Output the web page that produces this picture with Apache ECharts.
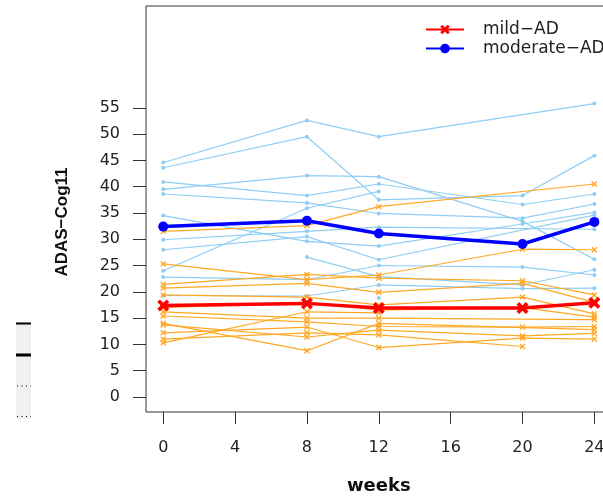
<!DOCTYPE html>
<html>
<head>
<meta charset="utf-8">
<script src="https://cdn.jsdelivr.net/npm/echarts@6/dist/echarts.min.js"></script>
<style>
  html, body { margin: 0; padding: 0; background: #fff; }
  #chart { width: 603px; height: 496px; }
</style>
</head>
<body>
<div id="chart"></div>
<script>
// visit weeks where scores were taken
var weeks = [0, 8, 12, 20, 24];
var weekTicks = [0, 4, 8, 12, 16, 20, 24];
var scoreTicks = [0, 5, 10, 15, 20, 25, 30, 35, 40, 45, 50, 55];

// group means (thick lines)
var mildMean = [17.4, 17.8, 16.9, 16.9, 17.9];
var moderateMean = [32.4, 33.5, 31.1, 29.1, 33.3];

// individual subjects, one value per visit week (null = missed visit)
var mildSubjects = [
    [31.5, 32.6, 36.2, null, 40.5],
    [25.3, 22.3, 23.2, 28.1, 28.0],
    [21.4, 23.3, 22.6, 22.1, 19.4],
    [20.7, 21.6, 19.9, 21.6, 18.0],
    [19.4, 19.0, 17.5, 19.0, 15.8],
    [17.0, 18.0, 16.5, 17.0, 15.2],
    [16.2, 15.0, 15.0, null, 14.7],
    [15.4, 14.3, 13.4, 13.3, 13.4],
    [14.0, 8.8, 14.0, null, 12.8],
    [13.7, 11.4, 12.7, 11.6, 12.1],
    [12.2, 13.3, 9.4, 11.2, 11.0],
    [11.0, 12.2, 11.8, 9.6, null],
    [10.3, 16.2, 16.0, null, null]
];
var moderateSubjects = [
    [44.6, 52.6, 49.5, null, 55.8],
    [43.6, 49.5, 37.5, 38.3, 45.9],
    [40.9, 38.3, 40.5, 36.6, 38.6],
    [39.5, 42.1, 41.9, 33.4, 26.2],
    [38.6, 36.9, 34.9, 34.0, 36.7],
    [34.5, 29.6, 28.7, 32.9, 35.1],
    [29.9, 31.5, 32.3, null, 31.9],
    [28.0, 30.5, 26.1, null, 34.6],
    [24.0, 35.9, 39.1, null, null],
    [22.8, 22.3, 25.0, 24.7, 23.2],
    [19.3, 19.2, 21.3, 20.6, 20.7],
    [null, 26.6, 22.9, 21.3, 24.2],
    [null, null, 18.8, null, null]
];

var mildName = 'mild\u2212AD';
var moderateName = 'moderate\u2212AD';

// x-shaped marker (filled outline so it can be filled)
var crossSmall = 'path://M0,1.6L1.6,0L5,3.4L8.4,0L10,1.6L6.6,5L10,8.4L8.4,10L5,6.6L1.6,10L0,8.4L3.4,5Z';
var crossBig = 'path://M0,2.2L2.2,0L5,2.8L7.8,0L10,2.2L7.2,5L10,7.8L7.8,10L5,7.2L2.2,10L0,7.8L2.8,5Z';

function toPoints(vals) {
    var pts = [];
    for (var i = 0; i < weeks.length; i++) {
        if (vals[i] != null) pts.push([weeks[i], vals[i]]);
    }
    return pts;
}

var series = [];
// moderate subjects first, mild ones on top
moderateSubjects.forEach(function (s) {
    series.push({
        type: 'line',
        data: toPoints(s),
        symbol: 'circle',
        symbolSize: 4,
        showAllSymbol: true,
        lineStyle: { color: '#8fcdf4', width: 1.2 },
        itemStyle: { color: '#8fcdf4' },
        silent: true,
        z: 2
    });
});
mildSubjects.forEach(function (s) {
    series.push({
        type: 'line',
        data: toPoints(s),
        symbol: crossSmall,
        symbolSize: 6,
        showAllSymbol: true,
        lineStyle: { color: '#ffa826', width: 1.2 },
        itemStyle: { color: '#ffa826' },
        silent: true,
        z: 3
    });
});
series.push({
    name: mildName,
    type: 'line',
    data: toPoints(mildMean),
    symbol: crossBig,
    symbolSize: 12,
    lineStyle: { color: '#ff0000', width: 3.5 },
    itemStyle: { color: '#ff0000' },
    z: 5
});
series.push({
    name: moderateName,
    type: 'line',
    data: toPoints(moderateMean),
    symbol: 'circle',
    symbolSize: 10,
    lineStyle: { color: '#0000ff', width: 3.5 },
    itemStyle: { color: '#0000ff' },
    z: 5
});

var chart = echarts.init(document.getElementById('chart'));
var option = {
    animation: false,
    backgroundColor: '#fff',
    textStyle: { fontFamily: 'DejaVu Sans' },
    grid: {
        left: 146,
        top: 6,
        width: 465.6,
        height: 406,
        outerBoundsMode: 'none',
        show: true,
        borderColor: '#333',
        borderWidth: 1
    },
    legend: {
        orient: 'vertical',
        left: 420,
        top: 16,
        itemWidth: 38,
        itemHeight: 12,
        itemGap: 2,
        data: [mildName, moderateName],
        textStyle: { fontSize: 17, color: '#222', fontFamily: 'DejaVu Sans', padding: [0, 0, 0, 14] }
    },
    xAxis: {
        type: 'value',
        min: -0.96,
        max: 24.96,
        name: 'weeks',
        nameLocation: 'middle',
        nameGap: 65,
        nameTextStyle: { fontSize: 18, fontWeight: 'bold', color: '#111', fontFamily: 'DejaVu Sans' },
        axisLine: { show: false, onZero: false },
        splitLine: { show: false },
        axisTick: { show: true, customValues: weekTicks, length: 12, lineStyle: { color: '#333' } },
        axisLabel: { customValues: weekTicks, margin: 28, fontSize: 16, color: '#222' }
    },
    yAxis: {
        type: 'value',
        min: -2.86,
        max: 74.36,
        name: 'ADAS\u2212Cog11',
        nameLocation: 'middle',
        nameGap: 75,
        nameTextStyle: {
            fontSize: 17, fontWeight: 'bold', color: '#111',
            fontFamily: 'Liberation Sans', padding: [0, 26, 0, 0]
        },
        axisLine: { show: false, onZero: false },
        splitLine: { show: false },
        axisTick: { show: true, customValues: scoreTicks, length: 13, lineStyle: { color: '#333' } },
        axisLabel: { customValues: scoreTicks, margin: 26, fontSize: 16, color: '#222' }
    },
    // leftover strip at the far left of the picture
    graphic: [
        { type: 'rect', shape: { x: 16, y: 322, width: 15, height: 97 }, style: { fill: '#f0f0f0' }, silent: true },
        { type: 'line', shape: { x1: 16, y1: 323.5, x2: 31, y2: 323.5 }, style: { stroke: '#000', lineWidth: 2 }, silent: true },
        { type: 'line', shape: { x1: 16, y1: 355, x2: 31, y2: 355 }, style: { stroke: '#000', lineWidth: 3 }, silent: true },
        { type: 'line', shape: { x1: 17, y1: 386, x2: 31, y2: 386 }, style: { stroke: '#000', lineWidth: 1, lineDash: [1, 3.5] }, silent: true },
        { type: 'line', shape: { x1: 17, y1: 416.5, x2: 31, y2: 416.5 }, style: { stroke: '#000', lineWidth: 1, lineDash: [1, 3.5] }, silent: true }
    ],
    series: series
};
chart.setOption(option);
</script>
</body>
</html>
